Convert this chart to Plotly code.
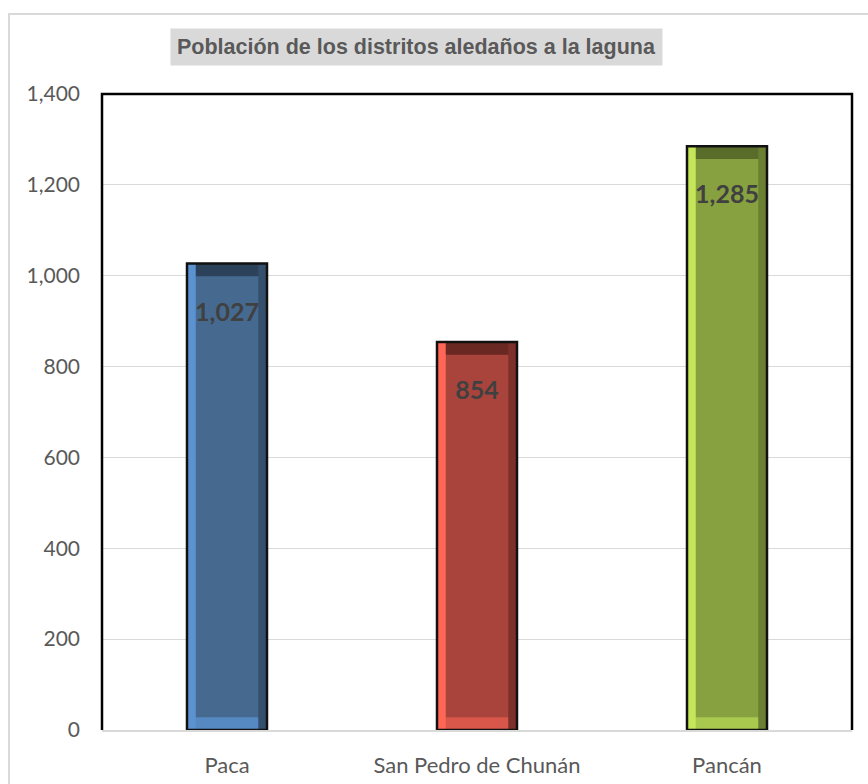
import plotly.graph_objects as go

categories = ["Paca", "San Pedro de Chunán", "Pancán"]
values = [1027, 854, 1285]
tick_vals = [0, 200, 400, 600, 800, 1000, 1200, 1400]
tick_text = ["0", "200", "400", "600", "800", "1,000", "1,200", "1,400"]
face_colors = ["#46698f", "#a9443c", "#87a040"]
light_colors = ["#5b93d1", "#ff6655", "#c6e65a"]
dark_colors = ["#34506d", "#7d302a", "#6a7f32"]
top_colors = ["#2c425b", "#6a2822", "#5a6c2a"]
bottom_colors = ["#5689c2", "#d9564b", "#a9c84e"]
title_text = "Población de los distritos aledaños a la laguna"

W = 0.32
edge = 0.035
band = 28

fig = go.Figure()
fig.add_trace(go.Bar(x=categories, y=values, width=W, offset=-W / 2,
                     marker=dict(color=face_colors, line=dict(width=0)),
                     hoverinfo="skip", showlegend=False))
fig.add_trace(go.Bar(x=categories, y=[band] * 3, base=[v - band for v in values],
                     width=W, offset=-W / 2,
                     marker=dict(color=top_colors, line=dict(width=0)),
                     hoverinfo="skip", showlegend=False))
fig.add_trace(go.Bar(x=categories, y=[band] * 3, base=[0, 0, 0],
                     width=W, offset=-W / 2,
                     marker=dict(color=bottom_colors, line=dict(width=0)),
                     hoverinfo="skip", showlegend=False))
fig.add_trace(go.Bar(x=categories, y=values, width=edge, offset=-W / 2,
                     marker=dict(color=light_colors, line=dict(width=0)),
                     hoverinfo="skip", showlegend=False))
fig.add_trace(go.Bar(x=categories, y=values, width=edge, offset=W / 2 - edge,
                     marker=dict(color=dark_colors, line=dict(width=0)),
                     hoverinfo="skip", showlegend=False))
fig.add_trace(go.Bar(x=categories, y=values, width=W, offset=-W / 2,
                     marker=dict(color="rgba(0,0,0,0)", line=dict(color="#111111", width=2.5)),
                     showlegend=False))
fig.add_trace(go.Scatter(x=categories, y=[v - 112 for v in values], mode="text",
                         text=[f"{v:,}" for v in values],
                         textfont=dict(family="Lato", size=25, color="#404040", weight="bold"),
                         hoverinfo="skip", showlegend=False))

fig.update_layout(
    width=868, height=784,
    margin=dict(l=102, r=16, t=94, b=54),
    paper_bgcolor="white", plot_bgcolor="white",
    barmode="overlay",
    font=dict(family="Lato", size=21, color="#595959"),
    xaxis=dict(showgrid=False, showline=True, linecolor="#d9d9d9", linewidth=2,
               ticks="", tickfont=dict(size=22, color="#595959"), ticklabelstandoff=15,
               automargin=False),
    yaxis=dict(range=[0, 1400], tickvals=tick_vals, ticktext=tick_text,
               showgrid=True, gridcolor="#d9d9d9", gridwidth=1, zeroline=False,
               showline=False, ticks="", ticklabelstandoff=21, automargin=False,
               tickfont=dict(size=21, color="#595959")),
    annotations=[dict(text=title_text, xref="paper", yref="paper",
                      x=(416.5 - 102) / 750, y=(730 - 47) / 636,
                      xanchor="center", yanchor="middle", showarrow=False,
                      font=dict(family="Liberation Sans", size=21.5, color="#595959", weight="bold"),
                      bgcolor="#d9d9d9", borderpad=6)],
    shapes=[
        dict(type="rect", xref="paper", yref="paper",
             x0=(9 - 102) / 750, x1=1.2, y0=-0.2, y1=(730 - 14) / 636,
             line=dict(color="#d9d9d9", width=2), layer="below"),
        dict(type="path", xref="paper", yref="paper",
             path="M 0 0 L 0 1 L 1 1 L 1 0",
             line=dict(color="#000000", width=2.5)),
    ],
)

fig.write_html("out.html")
